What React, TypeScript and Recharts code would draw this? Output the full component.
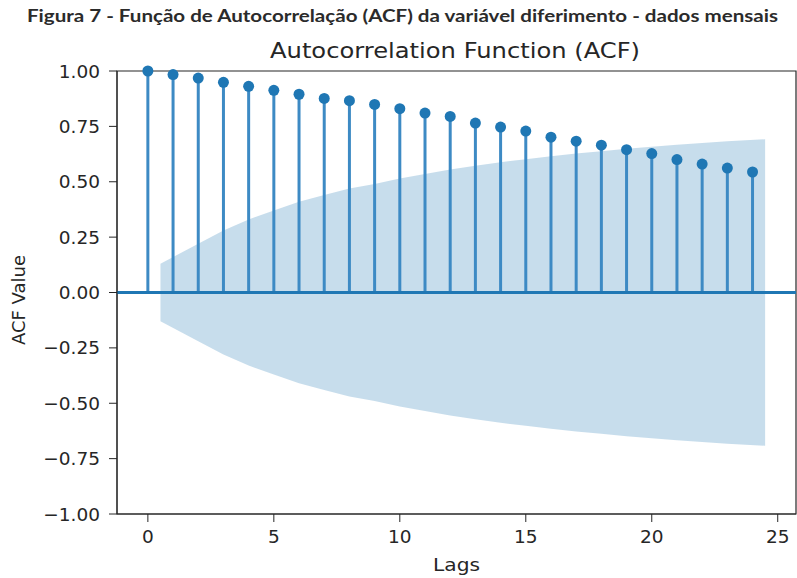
import React from "react";
import {
  ComposedChart,
  Area,
  Scatter,
  XAxis,
  YAxis,
  ReferenceLine,
  ReferenceArea,
} from "recharts";

// acf per lag
const lags = [0, 1, 2, 3, 4, 5, 6, 7, 8, 9, 10, 11, 12, 13, 14, 15, 16, 17, 18, 19, 20, 21, 22, 23, 24];
const acfValues = [
  1.0, 0.984, 0.968, 0.949, 0.931, 0.913, 0.895, 0.876, 0.866, 0.849, 0.83, 0.81, 0.795,
  0.765, 0.747, 0.729, 0.701, 0.683, 0.665, 0.645, 0.627, 0.6, 0.58, 0.562, 0.544,
];

// confidence band (statsmodels style, starts at 0.5, ends at 24.5)
const bandLags = [0.5, 2, 3, 4, 5, 6, 7, 8, 9, 10, 11, 12, 13, 14, 15, 16, 17, 18, 19, 20, 21, 22, 23, 24.5];
const bandUpper = [
  0.13, 0.22, 0.28, 0.33, 0.37, 0.41, 0.44, 0.47, 0.49, 0.515, 0.535, 0.555, 0.572, 0.588,
  0.602, 0.615, 0.627, 0.638, 0.649, 0.658, 0.667, 0.675, 0.683, 0.692,
];
const bandLower = [
  -0.13, -0.22, -0.28, -0.33, -0.37, -0.41, -0.44, -0.47, -0.49, -0.515, -0.535, -0.555, -0.572, -0.588,
  -0.602, -0.615, -0.627, -0.638, -0.649, -0.658, -0.667, -0.675, -0.683, -0.692,
];

const xTicks = [0, 5, 10, 15, 20, 25];
const yTicks = [-1, -0.75, -0.5, -0.25, 0, 0.25, 0.5, 0.75, 1];

const acfData = lags.map((lag, i) => ({ lag, acf: acfValues[i] }));
const bandData = bandLags.map((lag, i) => ({ lag, band: [bandLower[i], bandUpper[i]] }));

const BLUE = "#1f77b4";
const STEM = "#3d8ac4";
const INK = "#262626";
const tickFont = { fontFamily: "DejaVu Sans", fontSize: 18.5, fill: INK };

const fmtY = (v: number) => (v < 0 ? "\u2212" + Math.abs(v).toFixed(2) : v.toFixed(2));

export default function App() {
  return (
    <div style={{ position: "absolute", left: 0, top: 0, width: 797, height: 578, background: "#fff" }}>
      <ComposedChart
        width={797}
        height={578}
        data={bandData}
        margin={{ top: 71, right: 1, bottom: 34, left: 0 }}
      >
        <XAxis
          dataKey="lag"
          type="number"
          domain={[-1.225, 25.725]}
          ticks={xTicks}
          interval={0}
          allowDataOverflow
          height={30}
          tickSize={8}
          tickMargin={8}
          stroke={INK}
          tick={tickFont}
        />
        <YAxis
          type="number"
          domain={[-1, 1]}
          ticks={yTicks}
          interval={0}
          tickFormatter={fmtY}
          width={117}
          tickSize={8}
          tickMargin={9}
          stroke={INK}
          tick={tickFont}
        />
        {lags.map((lag, i) => (
          <ReferenceLine
            key={lag}
            segment={[
              { x: lag, y: 0 },
              { x: lag, y: acfValues[i] },
            ]}
            stroke={STEM}
            strokeWidth={3}
          />
        ))}
        <ReferenceLine y={0} stroke={BLUE} strokeWidth={3} />
        <Scatter
          data={acfData}
          dataKey="acf"
          fill={BLUE}
          isAnimationActive={false}
          shape={(p: any) => <circle cx={p.cx} cy={p.cy} r={5.5} fill={BLUE} />}
        />
        <Area
          dataKey="band"
          type="linear"
          stroke="none"
          fill={BLUE}
          fillOpacity={0.25}
          isAnimationActive={false}
          connectNulls
        />
        <ReferenceArea x1={-1.225} x2={25.725} y1={-1} y2={1} fill="none" stroke={INK} strokeWidth={1.2} />
      </ComposedChart>

      <svg
        width={797}
        height={578}
        style={{ position: "absolute", left: 0, top: 0, pointerEvents: "none" }}
      >
        <text
          x={27}
          y={22}
          textLength={751}
          lengthAdjust="spacingAndGlyphs"
          fontFamily="Lato, 'Noto Sans', sans-serif"
          fontWeight={700}
          fontSize={16.5}
          fill="#2b2b2b"
        >
          Figura 7 - Função de Autocorrelação (ACF) da variável diferimento - dados mensais
        </text>
        <text
          x={270}
          y={58}
          textLength={370}
          lengthAdjust="spacingAndGlyphs"
          fontFamily="DejaVu Sans"
          fontSize={22}
          fill={INK}
        >
          Autocorrelation Function (ACF)
        </text>
        <text
          x={433}
          y={571}
          textLength={47}
          lengthAdjust="spacingAndGlyphs"
          fontFamily="DejaVu Sans"
          fontSize={18}
          fill={INK}
        >
          Lags
        </text>
        <text
          x={25}
          y={300}
          textAnchor="middle"
          transform="rotate(-90 25 300)"
          fontFamily="DejaVu Sans"
          fontSize={18}
          fill={INK}
        >
          ACF Value
        </text>
      </svg>
    </div>
  );
}
